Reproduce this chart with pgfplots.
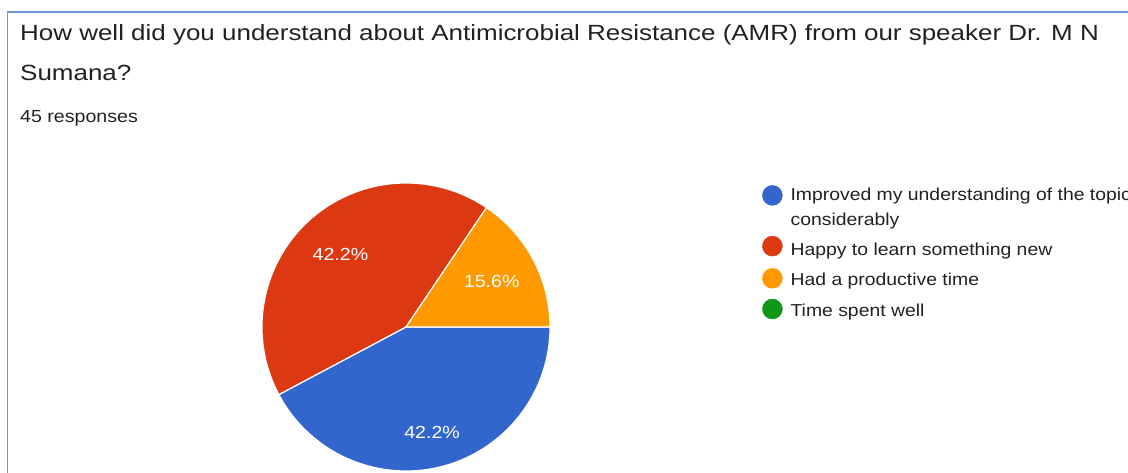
\documentclass[border=0pt]{standalone}
\usepackage{pgfplots}
\usepackage{pgfplotstable}
\pgfplotsset{compat=1.18}
\usepackage{fontspec}
\setmainfont[FakeStretch=1.12]{Liberation Sans}
\newfontfamily\titlefont[FakeStretch=1.18]{Liberation Sans}
\definecolor{gblue}{HTML}{3366CC}
\definecolor{gred}{HTML}{DC3912}
\definecolor{gorange}{HTML}{FF9900}
\definecolor{ggreen}{HTML}{109618}
\definecolor{gtext}{HTML}{202124}
\definecolor{gframe}{HTML}{6A98D6}

% responses per option, label distance from centre (px)
\pgfplotstableread{
count labr
19 108
19 98
7 97
0 0
}\piedata

\begin{document}
\begin{tikzpicture}
\useasboundingbox (0,0) rectangle (1128pt,473pt);
\pgfplotstablegetelem{0}{count}\of\piedata \pgfmathsetmacro\cA{\pgfplotsretval}
\pgfplotstablegetelem{1}{count}\of\piedata \pgfmathsetmacro\cB{\pgfplotsretval}
\pgfplotstablegetelem{2}{count}\of\piedata \pgfmathsetmacro\cC{\pgfplotsretval}
\pgfplotstablegetelem{3}{count}\of\piedata \pgfmathsetmacro\cD{\pgfplotsretval}
\pgfplotstablegetelem{0}{labr}\of\piedata \pgfmathsetmacro\lA{\pgfplotsretval}
\pgfplotstablegetelem{1}{labr}\of\piedata \pgfmathsetmacro\lB{\pgfplotsretval}
\pgfplotstablegetelem{2}{labr}\of\piedata \pgfmathsetmacro\lC{\pgfplotsretval}
\pgfmathsetmacro\tot{\cA+\cB+\cC+\cD}
\pgfmathsetmacro\aA{0}
\pgfmathsetmacro\aB{\aA-360*\cA/\tot}
\pgfmathsetmacro\aC{\aB-360*\cB/\tot}
\pgfmathsetmacro\aD{\aC-360*\cC/\tot}
\pgfmathsetmacro\mA{(\aA+\aB)/2}
\pgfmathsetmacro\mB{(\aB+\aC)/2}
\pgfmathsetmacro\mC{(\aC+\aD)/2}
\pgfmathsetmacro\pA{100*\cA/\tot}
\pgfmathsetmacro\pB{100*\cB/\tot}
\pgfmathsetmacro\pC{100*\cC/\tot}
\begin{axis}[
  at={(0pt,0pt)}, anchor=south west, scale only axis,
  x=1pt, y=1pt, xmin=0, xmax=1128, ymin=0, ymax=473,
  hide axis, clip=false,
  legend cell align=left,
  legend style={at={(axis cs:762,288)}, anchor=north west, draw=none, fill=none,
    text=gtext, font=\fontsize{17.3}{25}\selectfont, row sep=7pt,
    inner sep=0pt, nodes={inner sep=2pt, align=left, font=\fontsize{17.3}{25}\selectfont},
    /tikz/every odd column/.style={column sep=6pt}},
]
\draw[gframe, line width=1.6pt] (axis cs:7.5,0) -- (axis cs:7.5,461) -- (axis cs:1128,461);
\node[anchor=base west, inner sep=0pt, text=gtext, font=\titlefont\fontsize{22}{26}\selectfont] at (axis cs:20,432) {How well did you understand about Antimicrobial Resistance (AMR) from our speaker Dr. M N};
\node[anchor=base west, inner sep=0pt, text=gtext, font=\titlefont\fontsize{22}{26}\selectfont] at (axis cs:20,392) {Sumana?};
\node[anchor=base west, inner sep=0pt, text=gtext, font=\fontsize{17.5}{21}\selectfont] at (axis cs:20,350) {45 responses};

\fill[gblue, draw=white, line width=1.2pt] (axis cs:406,146) -- ++(\aA:144pt) arc[start angle=\aA, end angle=\aB, radius=144pt] -- cycle;
\fill[gred, draw=white, line width=1.2pt] (axis cs:406,146) -- ++(\aB:144pt) arc[start angle=\aB, end angle=\aC, radius=144pt] -- cycle;
\fill[gorange, draw=white, line width=1.2pt] (axis cs:406,146) -- ++(\aC:144pt) arc[start angle=\aC, end angle=\aD, radius=144pt] -- cycle;

\node[anchor=base, yshift=-6.3pt, text=white, inner sep=0pt, font=\fontsize{17.5}{20}\selectfont] at ([shift={(\mA:\lA pt)}]axis cs:406,146) {\pgfmathprintnumber[fixed,fixed zerofill,precision=1,assume math mode=true]{\pA}\%};
\node[anchor=base, yshift=-6.3pt, text=white, inner sep=0pt, font=\fontsize{17.5}{20}\selectfont] at ([shift={(\mB:\lB pt)}]axis cs:406,146) {\pgfmathprintnumber[fixed,fixed zerofill,precision=1,assume math mode=true]{\pB}\%};
\node[anchor=base, yshift=-6.3pt, text=white, inner sep=0pt, font=\fontsize{17.5}{20}\selectfont] at ([shift={(\mC:\lC pt)}]axis cs:406,146) {\pgfmathprintnumber[fixed,fixed zerofill,precision=1,assume math mode=true]{\pC}\%};

\addlegendimage{legend image code/.code={\fill[gblue] (10pt,12pt) circle (10pt);}}
\addlegendentry{Improved my understanding of the topic\\considerably}
\addlegendimage{legend image code/.code={\fill[gred] (10pt,3pt) circle (10pt);}}
\addlegendentry[text height=16pt, text depth=4pt]{Happy to learn something new}
\addlegendimage{legend image code/.code={\fill[gorange] (10pt,3pt) circle (10pt);}}
\addlegendentry[text height=13pt, text depth=4pt]{Had a productive time}
\addlegendimage{legend image code/.code={\fill[ggreen] (10pt,3pt) circle (10pt);}}
\addlegendentry[text height=13pt, text depth=4pt]{Time spent well}
\end{axis}
\end{tikzpicture}
\end{document}
